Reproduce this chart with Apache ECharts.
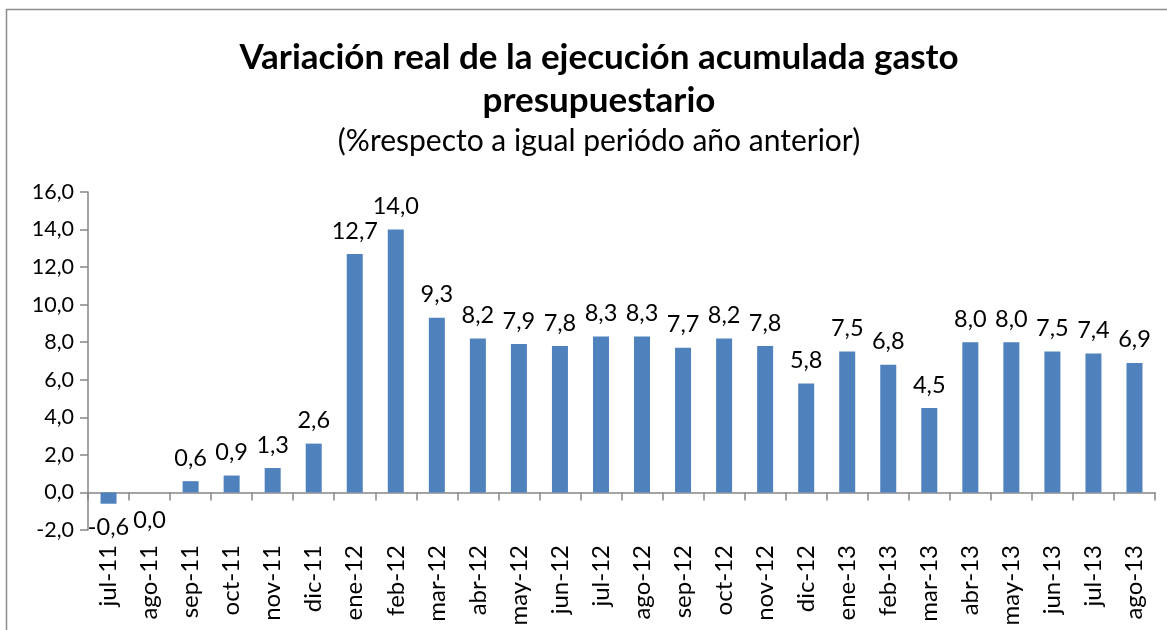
<!DOCTYPE html>
<html>
<head>
	<title>Variación real gasto presupuestario</title>
	<meta charset="utf-8">
	<script src="https://cdn.jsdelivr.net/npm/echarts@6/dist/echarts.min.js"></script>
	<style type="text/css">
		html, body{
			margin: 0;
			padding: 0;
			background: #fff;
		}
		#main{
			width: 1167px;
			height: 630px;
		}
	</style>
</head>
<body>
	<div id="main"></div>
	<script type="text/javascript">
		var months = ['jul-11','ago-11','sep-11','oct-11','nov-11','dic-11','ene-12','feb-12','mar-12','abr-12','may-12','jun-12','jul-12',
			'ago-12','sep-12','oct-12','nov-12','dic-12','ene-13','feb-13','mar-13','abr-13','may-13','jun-13','jul-13','ago-13'];
		var variation = [-0.6,0.0,0.6,0.9,1.3,2.6,12.7,14.0,9.3,8.2,7.9,7.8,8.3,8.3,7.7,8.2,7.8,5.8,7.5,6.8,4.5,8.0,8.0,7.5,7.4,6.9];
		var yTicks = {min: -2, max: 16, interval: 2};

		var font = 'Lato, "Open Sans", sans-serif';
		var fmt = function(v){
			return v.toFixed(1).replace('.', ',');
		};

		// values at or below zero get their label under the axis, as in the original
		var barData = variation.map(function(v){
			if(v <= 0){
				return {value: v, label: {position: 'bottom', distance: v < 0 ? 12 : 16}};
			}
			return v;
		});

		var myChart = echarts.init(document.getElementById('main'));
		var option = {
			backgroundColor: '#fff',
			animation: false,
			graphic: [{
				type: 'rect',
				shape: {x: 6.5, y: 9.5, width: 1180, height: 640},
				style: {fill: 'none', stroke: '#8c8c8c', lineWidth: 1.5}
			}],
			// the frame runs past the right edge, so titles sit a bit right of the page centre
			title: [{
				text: 'Variación real de la ejecución acumulada gasto\npresupuestario',
				left: 594,
				textAlign: 'center',
				top: 31,
				textStyle: {fontFamily: font, fontSize: 35, fontWeight: 'bold', color: '#000', lineHeight: 43}
			}, {
				text: '(%respecto a igual periódo año anterior)',
				left: 594,
				textAlign: 'center',
				top: 121,
				textStyle: {fontFamily: font, fontSize: 30, fontWeight: 'normal', color: '#000'}
			}],
			grid: {left: 88, right: 12, top: 192, bottom: 100},
			xAxis: [{
				type: 'category',
				data: months,
				position: 'bottom',
				axisLine: {onZero: true, lineStyle: {color: '#868686', width: 1.5}},
				axisTick: {show: true, interval: 0, length: 8, lineStyle: {color: '#868686', width: 1.5}},
				axisLabel: {show: false}
			}, {
				type: 'category',
				data: months,
				position: 'bottom',
				axisLine: {show: false, onZero: false},
				axisTick: {show: false},
				axisLabel: {interval: 0, rotate: 90, margin: 15, fontFamily: font, fontSize: 24, color: '#000'}
			}],
			yAxis: {
				type: 'value',
				min: yTicks.min,
				max: yTicks.max,
				interval: yTicks.interval,
				axisLine: {show: true, lineStyle: {color: '#868686', width: 1.5}},
				axisTick: {show: true, length: 8, lineStyle: {color: '#868686', width: 1.5}},
				splitLine: {show: false},
				axisLabel: {margin: 14, fontFamily: font, fontSize: 21.5, color: '#000', formatter: fmt}
			},
			series: [{
				name: 'variación',
				type: 'bar',
				xAxisIndex: 0,
				barWidth: 16,
				itemStyle: {color: '#4f81bd'},
				label: {
					show: true,
					position: 'top',
					distance: 11,
					fontFamily: font,
					fontSize: 23.5,
					color: '#000',
					formatter: function(p){ return fmt(p.value); }
				},
				data: barData
			}]
		};
		myChart.setOption(option);
	</script>
</body>
</html>
